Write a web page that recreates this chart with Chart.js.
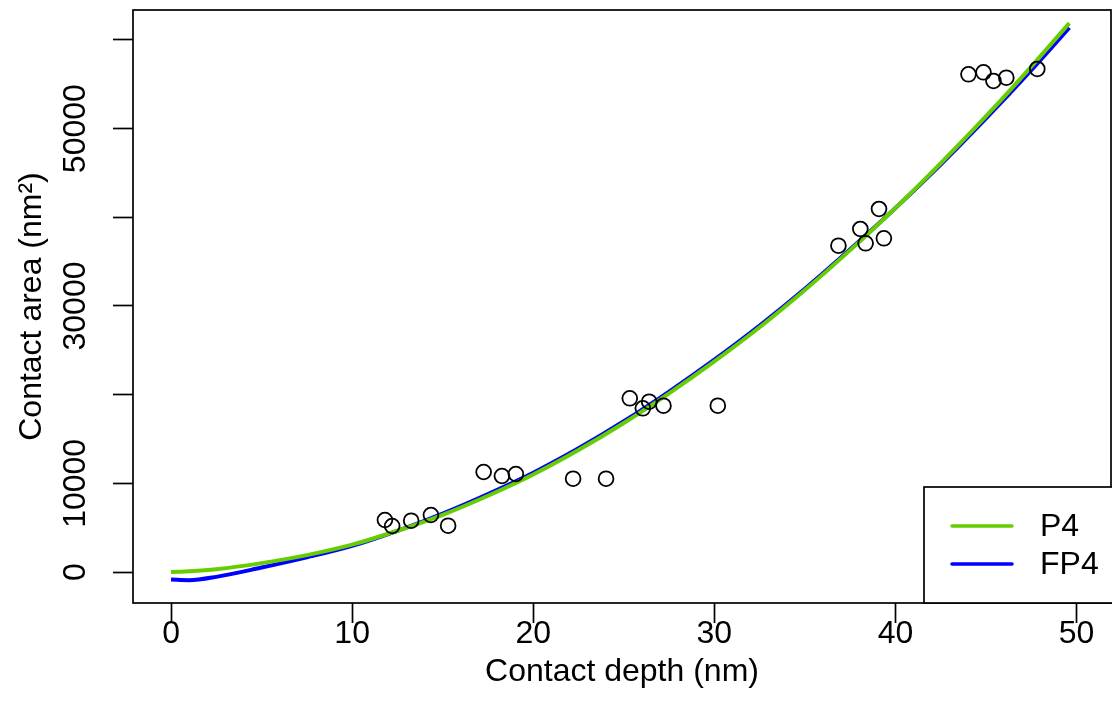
<!DOCTYPE html>
<html>
<head>
<meta charset="utf-8">
<script src="https://cdn.jsdelivr.net/npm/chart.js@4.4.0/dist/chart.umd.min.js"></script>
<style>
html,body{margin:0;padding:0;background:#fff;}
#wrap{width:1112px;height:722px;position:relative;}
</style>
</head>
<body>
<div id="wrap"><canvas id="chart"></canvas></div>
<script>
// measured points (contact depth nm, contact area nm^2)
const depth = [11.81, 12.21, 13.26, 14.35, 15.30, 17.26, 18.27, 19.04, 22.20, 24.02,
  25.33, 26.05, 26.40, 27.19, 30.19, 36.85, 38.06, 38.35, 39.09, 39.36,
  44.03, 44.86, 45.41, 46.12, 47.83];
const area = [5865, 5188, 5786, 6428, 5222, 11278, 10827, 11052, 10522, 10522,
  19590, 18462, 19206, 18755, 18755, 36800, 38684, 37071, 40939, 37634,
  56131, 56357, 55375, 55747, 56728];

// fitted area functions
const curveDepth = [0, 1, 2.5, 5, 7.5, 10, 12.5, 15, 17.5, 20, 22.5, 25, 27.5, 30, 32.5, 35, 37.5, 40, 42.5, 45, 47.5, 49.6];
const p4Area = [0, 90, 320, 1000, 1900, 3080, 4650, 6450, 8600, 11000, 13750, 16800, 20150, 23750, 27600, 31800, 36300, 41050, 46100, 51400, 57000, 61900];
const fp4Area = [-850, -920, -550, 500, 1650, 2950, 4650, 6600, 8800, 11200, 13950, 17000, 20350, 23950, 27800, 31950, 36400, 41050, 45950, 51150, 56600, 61400];

const xTicks = [0, 10, 20, 30, 40, 50];
const xTickLabels = ['0', '10', '20', '30', '40', '50'];
const yTicks = [0, 10000, 20000, 30000, 40000, 50000, 60000];
const yTickLabels = ['0', '10000', '', '30000', '', '50000', ''];
const legendLabels = ['P4', 'FP4'];
const legendColors = ['#66CD00', '#0000FF'];

const FAMILY = '"Liberation Sans", Arial, Helvetica, sans-serif';
const FSIZE = 32;

const toXY = (xs, ys) => xs.map((x, i) => ({x: x, y: ys[i]}));

// plot frame + R style legend
const frame = {
  id: 'frame',
  afterDraw(chart){
    const {ctx, chartArea: a} = chart;
    ctx.save();
    ctx.strokeStyle = '#000'; ctx.lineWidth = 1.7;
    ctx.strokeRect(a.left, a.top, a.right - a.left, a.bottom - a.top);
    const lx = a.right - 187, ly = a.bottom - 116;
    ctx.fillStyle = '#fff';
    ctx.fillRect(lx, ly, 200, 116);
    ctx.strokeRect(lx, ly, 200, 116);
    ctx.font = FSIZE + 'px ' + FAMILY;
    ctx.textBaseline = 'middle'; ctx.textAlign = 'left';
    legendLabels.forEach((lab, i) => {
      const yy = ly + 39 + i * 38;
      ctx.strokeStyle = legendColors[i]; ctx.lineWidth = 3.5; ctx.lineCap = 'round';
      ctx.beginPath(); ctx.moveTo(lx + 28, yy); ctx.lineTo(lx + 88, yy); ctx.stroke();
      ctx.fillStyle = '#000';
      ctx.fillText(lab, lx + 116, yy + 1);
    });
    ctx.restore();
  }
};

const tickGrid = {drawOnChartArea: false, drawTicks: true, tickLength: 20, tickWidth: 1.7, tickColor: '#000'};

new Chart(document.getElementById('chart'), {
  type: 'scatter',
  data: {
    datasets: [
      {label: 'data', data: toXY(depth, area), pointStyle: 'circle', pointRadius: 7.4,
        borderColor: '#000', borderWidth: 1.8, backgroundColor: 'rgba(0,0,0,0)', showLine: false},
      {label: 'P4', data: toXY(curveDepth, p4Area), showLine: true, borderColor: legendColors[0],
        borderWidth: 4, pointRadius: 0, cubicInterpolationMode: 'monotone'},
      {label: 'FP4', data: toXY(curveDepth, fp4Area), showLine: true, borderColor: legendColors[1],
        borderWidth: 4, pointRadius: 0, cubicInterpolationMode: 'monotone'}
    ]
  },
  options: {
    responsive: true, maintainAspectRatio: false, animation: false, events: [],
    layout: {autoPadding: false, padding: {top: 10, right: 1, left: 0, bottom: 0}},
    plugins: {legend: {display: false}, tooltip: {enabled: false}},
    scales: {
      x: {
        type: 'linear', min: -2.1, max: 51.9,
        afterBuildTicks: s => { s.ticks = xTicks.map(v => ({value: v})); },
        afterFit: s => { s.height = 119; s.paddingLeft = 0; s.paddingRight = 0; },
        ticks: {callback: (v, i) => xTickLabels[i], autoSkip: false, maxRotation: 0,
          padding: -8, color: '#000', font: {family: FAMILY, size: FSIZE}},
        grid: tickGrid, border: {display: false},
        title: {display: true, text: 'Contact depth (nm)', color: '#000',
          font: {family: FAMILY, size: FSIZE}, padding: {top: 0, bottom: 31}}
      },
      y: {
        type: 'linear', min: -3496, max: 63381,
        afterBuildTicks: s => { s.ticks = yTicks.map(v => ({value: v})); },
        afterFit: s => { s.width = 133; s.paddingTop = 0; s.paddingBottom = 0; },
        ticks: {callback: (v, i) => yTickLabels[i], autoSkip: false, minRotation: 90, maxRotation: 90,
          crossAlign: 'center', padding: -8, color: '#000', font: {family: FAMILY, size: FSIZE}},
        grid: tickGrid, border: {display: false},
        title: {display: true, text: 'Contact area (nm²)', color: '#000',
          font: {family: FAMILY, size: FSIZE}, padding: {top: 13, bottom: 0}}
      }
    }
  },
  plugins: [frame]
});
</script>
</body>
</html>
